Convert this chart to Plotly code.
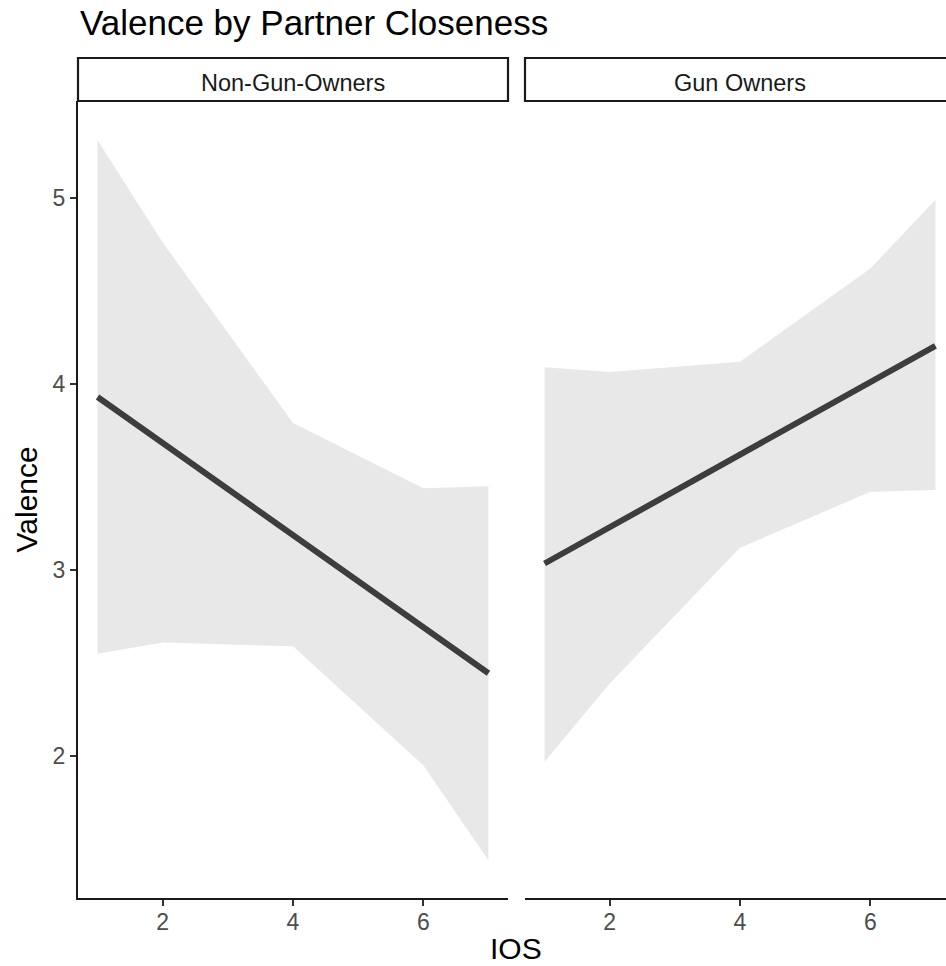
import plotly.graph_objects as go

# IOS positions where the confidence band is evaluated
ios = [1, 2, 4, 6, 7]

# Non-gun-owners: fitted line and confidence band
non_fit_x = [1, 7]
non_fit_y = [3.93, 2.445]
non_upper = [5.31, 4.76, 3.79, 3.44, 3.45]
non_lower = [2.55, 2.61, 2.59, 1.95, 1.44]

# Gun owners: fitted line and confidence band
gun_fit_x = [1, 7]
gun_fit_y = [3.035, 4.205]
gun_upper = [4.09, 4.065, 4.12, 4.62, 4.99]
gun_lower = [1.97, 2.39, 3.12, 3.42, 3.43]

panel_titles = ["Non-Gun-Owners", "Gun Owners"]
x_ticks = [2, 4, 6]
y_ticks = [2, 3, 4, 5]

FONT = "Liberation Sans, Arial, Helvetica, sans-serif"
BAND = "#e8e8e8"
LINE = "#3d3d3d"

fig = go.Figure()


def add_panel(xref, yref, upper, lower, fx, fy):
    fig.add_trace(go.Scatter(
        x=ios + ios[::-1], y=upper + lower[::-1],
        fill="toself", fillcolor=BAND, line=dict(width=0),
        mode="lines", hoverinfo="skip", showlegend=False,
        xaxis=xref, yaxis=yref,
    ))
    fig.add_trace(go.Scatter(
        x=fx, y=fy, mode="lines",
        line=dict(color=LINE, width=6),
        showlegend=False, xaxis=xref, yaxis=yref,
    ))


add_panel("x", "y", non_upper, non_lower, non_fit_x, non_fit_y)
add_panel("x2", "y2", gun_upper, gun_lower, gun_fit_x, gun_fit_y)

W, H = 946, 966
ml, mr, mt, mb = 78, 0, 101, 68
pw = W - ml - mr
ph = H - mt - mb

left_dom = [0, 430 / pw]
right_dom = [447 / pw, 1]
px_per_unit = 430 / 6.6
right_max = 0.7 + (pw - 447) / px_per_unit

tick_font = dict(family=FONT, size=23, color="#4d4d4d")
common_x = dict(
    showline=True, linecolor="#1a1a1a", linewidth=2.4,
    ticks="outside", ticklen=6, tickwidth=2.2, tickcolor="#333333",
    tickvals=x_ticks, tickfont=tick_font, showgrid=False, zeroline=False,
    ticklabelstandoff=-4, fixedrange=True,
)

fig.update_layout(
    width=W, height=H,
    margin=dict(l=ml, r=mr, t=mt, b=mb),
    paper_bgcolor="white", plot_bgcolor="white",
    xaxis=dict(domain=left_dom, range=[0.7, 7.3], anchor="y", **common_x),
    xaxis2=dict(domain=right_dom, range=[0.7, right_max], anchor="y2", **common_x),
    yaxis=dict(
        domain=[0, 1], range=[1.237, 5.521], anchor="x",
        showline=True, linecolor="#1a1a1a", linewidth=2.4,
        ticks="outside", ticklen=6, tickwidth=2.2, tickcolor="#333333",
        tickvals=y_ticks, tickfont=tick_font, showgrid=False, zeroline=False,
    ),
    yaxis2=dict(
        domain=[0, 1], range=[1.237, 5.521], anchor="x2", matches="y",
        showline=False, showticklabels=False, ticks="", showgrid=False,
        zeroline=False,
    ),
    showlegend=False,
)

# Facet strips
strip_top = 1 + 43 / ph
strip_spans = [(left_dom[0], left_dom[1]), (right_dom[0], 1.02)]
strip_centers = [(left_dom[0] + left_dom[1]) / 2,
                 right_dom[0] + (left_dom[1] - left_dom[0]) / 2]
for (x0, x1), xc, label in zip(strip_spans, strip_centers, panel_titles):
    fig.add_shape(type="rect", xref="paper", yref="paper",
                  x0=x0, x1=x1, y0=1, y1=strip_top,
                  line=dict(color="#1a1a1a", width=2.2), fillcolor="white")
    fig.add_annotation(xref="paper", yref="paper", x=xc,
                       y=(1 + strip_top) / 2 - 3 / ph, text=label, showarrow=False,
                       xanchor="center", yanchor="middle",
                       font=dict(family=FONT, size=23.5, color="#1a1a1a"))

# Title and axis titles
fig.add_annotation(xref="paper", yref="paper", x=0, y=1 + 78 / ph,
                   text="Valence by Partner Closeness", showarrow=False,
                   xanchor="left", yanchor="middle",
                   font=dict(family=FONT, size=35, color="black"))
fig.add_annotation(xref="paper", yref="paper", x=(516 - ml) / pw, y=-50 / ph,
                   text="IOS", showarrow=False, xanchor="center", yanchor="middle",
                   font=dict(family=FONT, size=30, color="black"))
fig.add_annotation(xref="paper", yref="paper", x=-52 / pw, y=0.5,
                   text="Valence", showarrow=False, textangle=-90,
                   xanchor="center", yanchor="middle",
                   font=dict(family=FONT, size=30, color="black"))

fig.write_html("out.html")
